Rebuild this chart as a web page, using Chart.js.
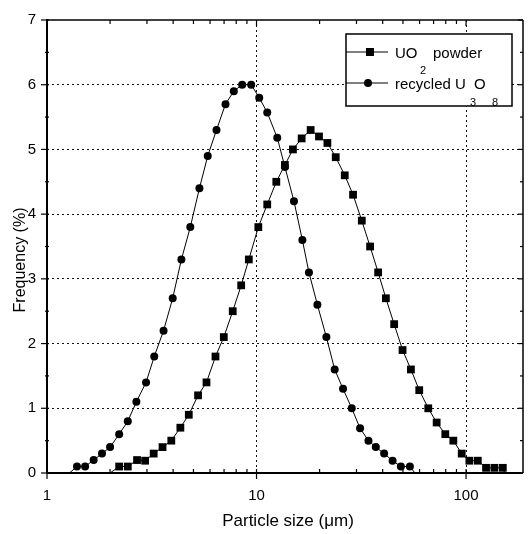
<!DOCTYPE html>
<html>
<head>
<meta charset="utf-8">
<script src="https://cdn.jsdelivr.net/npm/chart.js@4.4.0/dist/chart.umd.min.js"></script>
<style>
  html, body { margin: 0; padding: 0; background: #fff; }
</style>
</head>
<body>
<canvas id="chartPsd" width="530" height="534"></canvas>
<script>
// particle size bins (µm) and frequency (%)
const sizesUO2 = [2.0, 2.21, 2.43, 2.69, 2.94, 3.23, 3.56, 3.92, 4.33, 4.75, 5.26, 5.77, 6.37, 6.98, 7.70, 8.45, 9.19,
  10.2, 11.25, 12.43, 13.66, 14.92, 16.42, 18.13, 19.87, 21.79, 23.88, 26.37, 28.89, 31.8, 34.84, 38.06,
  41.43, 45.39, 49.78, 54.56, 59.79, 66.02, 72.4, 79.62, 86.96, 95.37, 103.7, 113.8, 124.6, 136.6, 149.8, 153];
const freqUO2 = [0, 0.1, 0.1, 0.2, 0.19, 0.3, 0.4, 0.5, 0.7, 0.9, 1.2, 1.4, 1.8, 2.1, 2.5, 2.9, 3.3,
  3.8, 4.15, 4.5, 4.76, 5.0, 5.17, 5.3, 5.2, 5.1, 4.88, 4.6, 4.3, 3.9, 3.5, 3.1,
  2.7, 2.3, 1.9, 1.6, 1.28, 1.0, 0.78, 0.6, 0.5, 0.3, 0.19, 0.19, 0.08, 0.08, 0.08, 0];

const sizesU3O8 = [1.28, 1.39, 1.52, 1.67, 1.83, 2.0, 2.21, 2.43, 2.67, 2.97, 3.25, 3.6, 3.98, 4.38, 4.83, 5.34,
  5.85, 6.44, 7.11, 7.79, 8.54, 9.43, 10.3, 11.25, 12.56, 13.66, 15.09, 16.55, 17.79, 19.52, 21.55,
  23.61, 25.88, 28.48, 31.21, 34.22, 37.1, 40.65, 44.6, 48.87, 53.95, 57];
const freqU3O8 = [0, 0.1, 0.1, 0.2, 0.3, 0.4, 0.6, 0.8, 1.1, 1.4, 1.8, 2.2, 2.7, 3.3, 3.8, 4.4,
  4.9, 5.3, 5.7, 5.9, 6.0, 6.0, 5.8, 5.57, 5.18, 4.73, 4.2, 3.6, 3.1, 2.6, 2.1,
  1.6, 1.3, 1.0, 0.69, 0.5, 0.4, 0.3, 0.19, 0.1, 0.1, 0];

const xMajor = [1, 10, 100];
const xMinor = [2, 3, 4, 5, 6, 7, 8, 9, 20, 30, 40, 50, 60, 70, 80, 90];
const yTicks = [0, 1, 2, 3, 4, 5, 6, 7];

const FONT = "'Liberation Sans', Arial, sans-serif";

function toPoints(xs, ys) {
  return xs.map((x, i) => ({ x: x, y: ys[i] }));
}

function line(ctx, x1, y1, x2, y2) {
  ctx.beginPath();
  ctx.moveTo(x1, y1);
  ctx.lineTo(x2, y2);
  ctx.stroke();
}

const framePlugin = {
  id: 'frame',
  afterDraw(chart) {
    const ctx = chart.ctx;
    const a = chart.chartArea;
    const x = chart.scales.x;
    const y = chart.scales.y;
    ctx.save();
    ctx.strokeStyle = '#000';

    // frame
    ctx.lineWidth = 1.5;
    line(ctx, a.left, a.top, a.right, a.top);
    line(ctx, a.right, a.top, a.right, a.bottom);
    ctx.lineWidth = 2;
    line(ctx, a.left, a.top - 1, a.left, a.bottom + 1);
    line(ctx, a.left - 1, a.bottom, a.right, a.bottom);

    // y ticks, majors + halves
    ctx.lineWidth = 1.2;
    for (let v = 0; v <= 7; v += 0.5) {
      const py = y.getPixelForValue(v);
      const major = v % 1 === 0;
      line(ctx, a.left - (major ? 6 : 2), py, a.left + 2, py);
      line(ctx, a.right - (major ? 5 : 3), py, a.right, py);
    }
    // x ticks
    xMajor.concat(xMinor).forEach(v => {
      const px = x.getPixelForValue(v);
      if (px > a.right) return;
      const major = xMajor.includes(v);
      line(ctx, px, a.bottom - 4, px, a.bottom + (major ? 6 : 0));
      line(ctx, px, a.top, px, a.top + (major ? 6 : 4));
    });

    // axis titles
    ctx.fillStyle = '#000';
    ctx.textAlign = 'center';
    ctx.textBaseline = 'middle';
    ctx.font = '17px ' + FONT;
    ctx.fillText('Particle size (\u03bcm)', 288, 521);
    ctx.save();
    ctx.translate(21, 260);
    ctx.rotate(-Math.PI / 2);
    ctx.font = '16px ' + FONT;
    ctx.fillText('Frequency (%)', 0, 0);
    ctx.restore();

    // legend box
    const bx = 346, by = 34, bw = 166, bh = 72;
    ctx.fillStyle = '#fff';
    ctx.fillRect(bx, by, bw, bh);
    ctx.lineWidth = 1.5;
    ctx.strokeRect(bx, by, bw, bh);
    ctx.lineWidth = 1;
    ctx.fillStyle = '#000';
    line(ctx, bx, 52, bx + 42, 52);
    ctx.fillRect(370 - 4, 52 - 4, 8, 8);
    line(ctx, bx, 83, bx + 42, 83);
    ctx.beginPath();
    ctx.arc(368, 83, 4, 0, Math.PI * 2);
    ctx.fill();

    ctx.textAlign = 'left';
    ctx.textBaseline = 'alphabetic';
    ctx.font = '15px ' + FONT;
    ctx.fillText('UO', 395, 58);
    ctx.fillText('powder', 433, 58);
    ctx.fillText('recycled', 395, 89);
    ctx.fillText('U', 455, 89);
    ctx.fillText('O', 474, 89);
    ctx.font = '11px ' + FONT;
    ctx.fillText('2', 420, 74);
    ctx.fillText('3', 470, 106);
    ctx.fillText('8', 492, 106);
    ctx.restore();
  }
};

const ctx = document.getElementById('chartPsd').getContext('2d');

new Chart(ctx, {
  type: 'line',
  data: {
    datasets: [
      {
        label: 'UO2 powder',
        data: toPoints(sizesUO2, freqUO2),
        borderColor: '#000',
        backgroundColor: '#000',
        borderWidth: 1,
        pointStyle: 'rect',
        pointRadius: c => (c.raw && c.raw.y > 0 ? 5.5 : 0),
        pointBorderWidth: 0,
        tension: 0
      },
      {
        label: 'recycled U3O8',
        data: toPoints(sizesU3O8, freqU3O8),
        borderColor: '#000',
        backgroundColor: '#000',
        borderWidth: 1,
        pointStyle: 'circle',
        pointRadius: c => (c.raw && c.raw.y > 0 ? 4 : 0),
        pointBorderWidth: 0,
        tension: 0
      }
    ]
  },
  options: {
    responsive: false,
    animation: false,
    layout: { padding: { top: 18, right: 7, left: 0, bottom: 0 } },
    plugins: { legend: { display: false }, tooltip: { enabled: false } },
    scales: {
      x: {
        type: 'logarithmic',
        min: 1,
        max: 187,
        afterBuildTicks: s => { s.ticks = xMajor.concat(xMinor).sort((p, q) => p - q).map(v => ({ value: v })); },
        afterFit: s => { s.height = 61; },
        grid: {
          color: c => (c.tick && (c.tick.value === 10 || c.tick.value === 100) ? '#111' : 'rgba(0,0,0,0)'),
          lineWidth: 1,
          drawTicks: false
        },
        border: { display: false, dash: [2, 3] },
        ticks: {
          autoSkip: false,
          maxRotation: 0,
          padding: 14,
          color: '#000',
          font: { family: FONT, size: 15 },
          callback: v => (xMajor.includes(v) ? String(v) : '')
        }
      },
      y: {
        min: 0,
        max: 7,
        afterBuildTicks: s => { s.ticks = yTicks.map(v => ({ value: v })); },
        afterFit: s => { s.width = 47; },
        grid: {
          color: c => (c.tick && c.tick.value > 0 && c.tick.value < 7 ? '#111' : 'rgba(0,0,0,0)'),
          lineWidth: 1,
          drawTicks: false
        },
        border: { display: false, dash: [2, 3] },
        ticks: {
          padding: 11,
          color: '#000',
          font: { family: FONT, size: 15 }
        }
      }
    }
  },
  plugins: [framePlugin]
});
</script>
</body>
</html>
